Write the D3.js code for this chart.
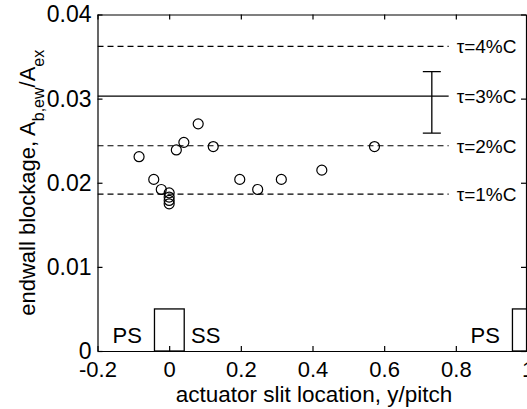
<!DOCTYPE html>
<html>
<head>
<meta charset="utf-8">
<script src="https://cdn.jsdelivr.net/npm/d3@7"></script>
<style>
  html, body { margin: 0; padding: 0; background: #fff; }
  svg { display: block; }
  text { font-family: "Liberation Sans", Arial, Helvetica, sans-serif; fill: #000; }
</style>
</head>
<body>
<svg id="chart" width="527" height="409"></svg>
<script>
// Measured endwall blockage vs. actuator slit location
const slitX = [-0.084, -0.043, -0.022, 0.0, 0.0, 0.0, 0.0, 0.020, 0.041, 0.081, 0.123, 0.197, 0.247, 0.313, 0.426, 0.573];
const blockage = [0.0231, 0.0204, 0.0192, 0.0188, 0.0183, 0.0179, 0.0175, 0.0239, 0.0248, 0.0270, 0.0243, 0.0204, 0.0192, 0.0204, 0.0215, 0.0243];

// Reference blockage levels for equivalent gap sizes
const tauLabels = ["τ=4%C", "τ=3%C", "τ=2%C", "τ=1%C"];
const tauValues = [0.0362, 0.0303, 0.0244, 0.01865];
const tauDashed = [true, false, true, true];

// Uncertainty bar
const errX = [0.733];
const errLow = [0.0259];
const errHigh = [0.0332];

// Blade cross-sections at the endwall
const bladeStart = [-0.041, 0.958];
const bladeEnd = [0.042, 1.042];
const bladeHeight = [0.005, 0.005];
const sideLabels = ["PS", "SS", "PS"];
const sideLabelX = [-0.117, 0.102, 0.882];

const xTicks = [-0.2, 0, 0.2, 0.4, 0.6, 0.8, 1];
const yTicks = [0, 0.01, 0.02, 0.03, 0.04];

const svg = d3.select("#chart");
const margin = { left: 97.5, top: 14.5 };

const x = d3.scaleLinear().domain([-0.2, 1]).range([margin.left, 527.5]);
const y = d3.scaleLinear().domain([0, 0.04]).range([351, margin.top]);

// Plain hyphen for negatives, bare "0" at the origin
const fmt = d => d === 0 ? "0" : String(d);

svg.append("defs").append("clipPath").attr("id", "plotArea")
  .append("rect").attr("x", x(-0.2)).attr("y", y(0.04))
  .attr("width", x(1) - x(-0.2)).attr("height", y(0) - y(0.04));

// Axes with inward ticks on all four sides
const xAxisB = d3.axisBottom(x).tickValues(xTicks).tickSizeInner(-5).tickSizeOuter(0).tickPadding(10).tickFormat(fmt);
const xAxisT = d3.axisTop(x).tickValues(xTicks).tickSizeInner(-5).tickSizeOuter(0).tickFormat("");
const yAxisL = d3.axisLeft(y).tickValues(yTicks).tickSizeInner(-5).tickSizeOuter(0).tickPadding(6).tickFormat(fmt);
const yAxisR = d3.axisRight(y).tickValues(yTicks).tickSizeInner(-5).tickSizeOuter(0).tickFormat("");

function styleAxis(g, size) {
  g.selectAll("path, line").attr("stroke", "#000").attr("stroke-width", 1.2);
  g.selectAll("text").style("font-size", size + "px").attr("fill", "#000");
}

svg.append("g").attr("transform", `translate(0,${y(0)})`).call(xAxisB).call(styleAxis, 22);
svg.append("g").attr("transform", `translate(0,${y(0.04)})`).call(xAxisT).call(styleAxis, 22);
svg.append("g").attr("transform", `translate(${x(-0.2)},0)`).call(yAxisL).call(styleAxis, 23);
svg.append("g").attr("transform", `translate(${x(1) - 1.5},0)`).call(yAxisR).call(styleAxis, 22);

const plot = svg.append("g").attr("clip-path", "url(#plotArea)");

// Reference lines
const lineEnd = 0.78;
plot.selectAll("line.tau").data(tauValues).join("line")
  .attr("class", "tau")
  .attr("x1", x(-0.2)).attr("x2", x(lineEnd))
  .attr("y1", d => y(d)).attr("y2", d => y(d))
  .attr("stroke", "#000").attr("stroke-width", 1.2)
  .attr("stroke-dasharray", (d, i) => tauDashed[i] ? "6,4" : null);

svg.selectAll("text.tau").data(tauValues).join("text")
  .attr("class", "tau")
  .attr("x", x(lineEnd) + 8).attr("y", d => y(d))
  .attr("dy", "0.36em")
  .style("font-size", "19px")
  .text((d, i) => tauLabels[i]);

// Error bar
const capHalf = 9;
errX.forEach((ex, i) => {
  const g = plot.append("g");
  g.append("line").attr("x1", x(ex)).attr("x2", x(ex)).attr("y1", y(errLow[i])).attr("y2", y(errHigh[i]));
  g.append("line").attr("x1", x(ex) - capHalf).attr("x2", x(ex) + capHalf).attr("y1", y(errLow[i])).attr("y2", y(errLow[i]));
  g.append("line").attr("x1", x(ex) - capHalf).attr("x2", x(ex) + capHalf).attr("y1", y(errHigh[i])).attr("y2", y(errHigh[i]));
  g.selectAll("line").attr("stroke", "#000").attr("stroke-width", 1.3);
});

// Blade outlines
plot.selectAll("rect.blade").data(bladeStart).join("rect")
  .attr("class", "blade")
  .attr("x", d => x(d)).attr("y", (d, i) => y(bladeHeight[i]))
  .attr("width", (d, i) => x(bladeEnd[i]) - x(d))
  .attr("height", (d, i) => y(0) - y(bladeHeight[i]))
  .attr("fill", "none").attr("stroke", "#000").attr("stroke-width", 1.3);

svg.selectAll("text.side").data(sideLabels).join("text")
  .attr("class", "side")
  .attr("x", (d, i) => x(sideLabelX[i])).attr("y", 343)
  .attr("text-anchor", "middle")
  .style("font-size", "22px")
  .text(d => d);

// Measurements
plot.selectAll("circle.pt").data(slitX).join("circle")
  .attr("class", "pt")
  .attr("cx", d => x(d)).attr("cy", (d, i) => y(blockage[i]))
  .attr("r", 5)
  .attr("fill", "none").attr("stroke", "#000").attr("stroke-width", 1.2);

// Axis titles
svg.append("text")
  .attr("x", 314).attr("y", 402)
  .attr("text-anchor", "middle")
  .style("font-size", "22.5px")
  .text("actuator slit location, y/pitch");

const yl = svg.append("text")
  .attr("transform", `translate(35,${(y(0) + y(0.04)) / 2}) rotate(-90)`)
  .attr("text-anchor", "middle")
  .style("font-size", "22px");
yl.append("tspan").text("endwall blockage, A");
yl.append("tspan").attr("baseline-shift", "sub").style("font-size", "16px").text("b,ew");
yl.append("tspan").text("/A");
yl.append("tspan").attr("baseline-shift", "sub").style("font-size", "16px").text("ex");
</script>
</body>
</html>
